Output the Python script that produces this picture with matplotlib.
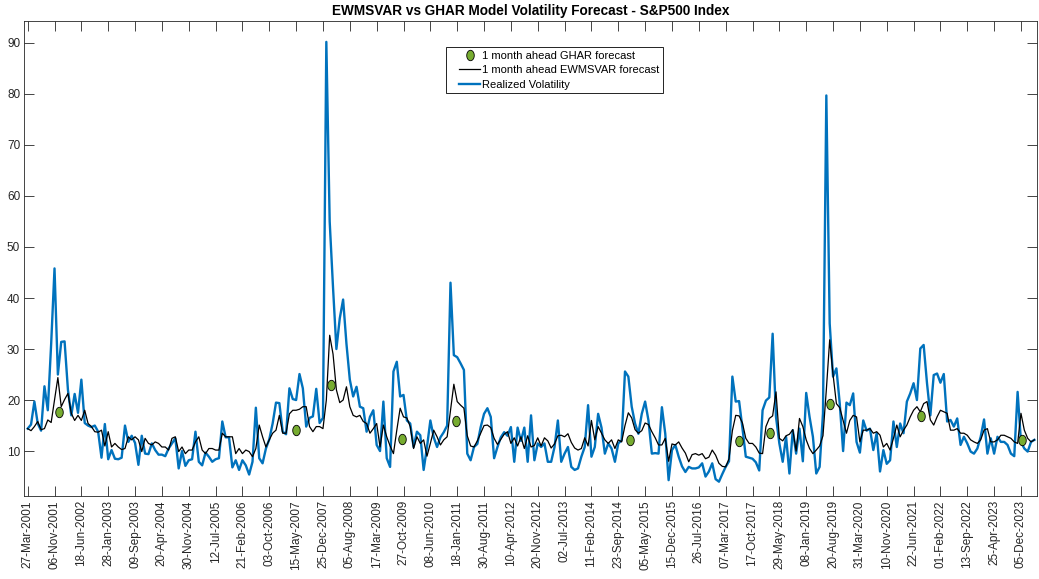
import numpy as np
import pandas as pd
import matplotlib
matplotlib.use("Agg")
import matplotlib.pyplot as plt
from matplotlib.path import Path
from matplotlib.lines import Line2D
from matplotlib.legend_handler import HandlerLine2D

plt.rcParams["font.family"] = ["Liberation Sans", "DejaVu Sans"]

# ---- data -----------------------------------------------------------------
start_date = "2001-03-27"
step_days = 28          # one observation every four weeks
tick_step_days = 224    # date labels every eight observations

realized_vol = [
    14.4, 15.2, 19.7, 15.4, 14.0, 22.7, 18.0, 31.0,
    45.8, 25.0, 31.4, 31.5, 22.0, 17.0, 21.2, 17.5,
    24.0, 15.5, 15.0, 14.7, 15.0, 13.8, 8.7, 15.3,
    8.4, 10.2, 8.5, 8.4, 8.7, 15.0, 11.8, 13.0,
    11.6, 7.3, 13.0, 9.5, 9.4, 11.5, 10.2, 9.3,
    9.3, 9.0, 10.5, 11.5, 12.5, 6.6, 10.0, 7.1,
    8.2, 8.4, 13.8, 7.9, 7.2, 9.7, 8.9, 7.9,
    8.4, 8.6, 15.8, 12.7, 12.7, 6.8, 8.2, 6.3,
    8.2, 7.2, 5.4, 7.9, 18.5, 8.6, 7.6, 10.5,
    12.3, 15.4, 19.5, 19.4, 13.8, 13.3, 22.3, 20.2,
    20.0, 25.1, 22.3, 14.8, 16.5, 16.8, 22.2, 15.5,
    16.5, 90.2, 55.0, 42.0, 30.0, 36.0, 39.7, 31.0,
    24.0, 20.7, 22.6, 18.7, 18.4, 13.8, 16.7, 18.0,
    11.2, 10.0, 19.7, 8.6, 6.9, 25.6, 27.5, 20.7,
    21.0, 16.0, 15.4, 10.8, 13.8, 13.1, 6.3, 10.8,
    16.0, 12.7, 10.8, 12.7, 13.7, 15.0, 43.0, 28.8,
    28.4, 27.2, 25.9, 9.5, 8.2, 10.8, 11.4, 14.7,
    17.3, 18.4, 16.7, 8.6, 10.8, 12.7, 13.7, 13.0,
    14.7, 7.9, 14.6, 12.0, 14.6, 7.9, 17.0, 8.2,
    11.5, 10.8, 11.5, 7.9, 7.9, 10.8, 16.0, 7.9,
    9.5, 10.8, 6.9, 6.3, 6.6, 8.9, 10.8, 19.0,
    8.9, 10.8, 17.3, 14.6, 9.5, 11.5, 10.5, 7.9,
    11.5, 12.1, 25.6, 24.6, 18.7, 15.4, 13.4, 17.3,
    19.7, 16.0, 9.5, 9.6, 9.5, 18.6, 13.4, 4.3,
    10.2, 11.2, 8.9, 7.0, 5.9, 6.9, 6.6, 6.6,
    6.8, 7.6, 5.0, 6.0, 7.6, 4.5, 4.0, 5.5,
    6.9, 8.0, 24.6, 19.7, 19.8, 14.5, 8.9, 8.7,
    8.5, 7.8, 6.2, 18.0, 19.9, 20.5, 33.0, 16.7,
    11.5, 7.9, 12.8, 5.6, 14.1, 9.5, 14.4, 8.0,
    21.4, 16.7, 12.8, 5.6, 6.9, 17.4, 79.7, 35.0,
    24.6, 26.2, 19.3, 10.0, 19.5, 19.0, 21.3, 11.8,
    9.7, 16.0, 14.0, 14.4, 10.2, 13.5, 6.0, 10.2,
    7.5, 8.2, 15.8, 10.8, 15.4, 13.5, 19.7, 21.3,
    23.3, 20.0, 30.1, 30.8, 23.3, 17.0, 24.9, 25.2,
    23.4, 25.1, 15.8, 16.1, 14.8, 16.4, 11.2, 12.8,
    11.5, 9.9, 9.5, 10.5, 12.8, 16.2, 9.5, 12.5,
    9.5, 12.8, 11.8, 11.8, 11.2, 9.5, 9.0, 21.6,
    11.8, 10.5, 9.9, 11.8, 12.2,
]

ewmsvar_forecast = [
    14.4, 14.0, 14.8, 15.8, 14.2, 14.4, 16.1, 15.6,
    20.0, 24.4, 18.7, 20.1, 21.3, 17.4, 16.0, 17.0,
    16.0, 18.0, 15.4, 14.8, 13.8, 13.7, 14.1, 11.0,
    13.8, 10.8, 11.5, 10.8, 10.3, 10.5, 12.8, 12.2,
    12.8, 12.2, 9.9, 12.5, 11.5, 11.2, 11.8, 11.5,
    10.8, 10.8, 10.2, 12.5, 12.8, 9.9, 10.8, 9.5,
    10.2, 10.2, 11.8, 12.8, 10.2, 9.5, 10.5, 10.5,
    10.2, 10.2, 13.5, 12.8, 12.8, 12.8, 9.5, 10.5,
    9.5, 10.2, 9.9, 8.9, 10.5, 15.1, 12.8, 10.8,
    12.2, 13.5, 14.1, 17.0, 13.5, 13.5, 17.3, 18.0,
    18.0, 18.2, 18.7, 18.7, 14.8, 13.8, 14.8, 14.8,
    14.4, 20.0, 32.7, 29.0, 22.0, 19.5, 20.0, 22.6,
    18.7, 17.0, 16.7, 17.0, 15.8, 15.4, 13.5, 14.4,
    15.4, 10.8, 15.1, 12.8, 11.0, 9.5, 14.1, 18.4,
    16.7, 16.5, 14.8, 10.5, 12.8, 11.5, 12.2, 9.0,
    11.5, 14.1, 12.8, 11.2, 12.2, 12.8, 18.0, 23.1,
    19.7, 19.0, 18.4, 13.0, 11.0, 10.8, 12.0, 13.5,
    15.0, 15.1, 14.6, 12.5, 11.3, 12.3, 13.3, 13.8,
    11.5, 12.6, 11.0, 12.8, 10.5, 13.0, 10.8, 11.1,
    12.6, 11.0, 12.6, 12.0, 10.6, 11.4, 13.0, 13.1,
    12.8, 13.4, 11.7, 10.6, 10.2, 10.5, 12.6, 11.0,
    16.0, 12.2, 14.8, 13.5, 12.2, 11.5, 12.2, 10.5,
    12.2, 11.8, 15.0, 17.5, 16.5, 14.2, 13.5, 14.0,
    15.5, 15.2, 13.8, 12.6, 11.2, 11.2, 12.5, 8.0,
    11.4, 11.2, 11.8, 10.6, 9.6, 7.9, 9.3, 9.5,
    9.2, 9.5, 8.5, 8.8, 10.2, 9.2, 7.6, 7.0,
    6.9, 8.5, 14.0, 17.0, 16.9, 15.5, 12.5, 11.5,
    11.5, 10.8, 9.6, 9.5, 14.8, 16.4, 16.9, 21.6,
    12.5, 12.0, 13.0, 13.3, 14.2, 10.0, 16.4, 14.8,
    12.2, 10.5, 9.5, 10.2, 11.0, 13.0, 22.0, 31.8,
    25.0, 19.3, 18.5, 16.0, 13.5, 16.0, 17.0, 16.7,
    11.8, 14.1, 14.1, 14.4, 13.5, 13.8, 13.1, 10.8,
    11.5, 10.2, 12.5, 15.1, 12.8, 14.1, 15.1, 16.7,
    18.0, 18.7, 17.7, 19.3, 19.7, 16.1, 15.1, 16.7,
    18.0, 17.7, 17.4, 14.1, 14.1, 14.4, 13.5, 13.5,
    13.1, 12.2, 11.8, 11.5, 12.2, 14.1, 14.4, 11.8,
    11.8, 12.2, 13.1, 13.1, 12.8, 12.5, 11.8, 11.5,
    17.4, 14.1, 12.5, 11.8, 12.2,
]

ghar_dates = [
    "2001-12-11", "2007-05-12", "2008-03-01", "2009-10-17", "2011-01-10",
    "2014-12-29", "2017-06-23", "2018-03-11", "2019-07-27", "2021-08-20",
    "2023-12-12",
]
ghar_forecast = [17.6, 14.1, 22.9, 12.4, 15.9, 12.2, 12.0, 13.6, 19.2, 16.9, 12.2]

title_text = "EWMSVAR vs GHAR Model Volatility Forecast - S&P500 Index"
label_ghar = "1 month ahead GHAR forecast"
label_ewmsvar = "1 month ahead EWMSVAR forecast"
label_rv = "Realized Volatility"

# ---- styling --------------------------------------------------------------
blue = "#0072BD"
green = "#77AC30"
axis_grey = "#262626"
tick_font = 8.5


class IndentedLineHandler(HandlerLine2D):
    """Legend line sample drawn in the right part of the handle box."""

    def get_xdata(self, legend, xdescent, ydescent, width, height, fontsize):
        x0 = -xdescent + 0.33 * width
        x1 = -xdescent + width
        xdata = np.array([x0, x1])
        return xdata, np.array([(x0 + x1) / 2])


dates = pd.date_range(start_date, periods=len(realized_vol), freq=f"{step_days}D")
fc_dates = pd.date_range(start_date, periods=len(ewmsvar_forecast), freq=f"{step_days}D")
tick_dates = pd.date_range(start_date, dates[-1], freq=f"{tick_step_days}D")
ghar_x = pd.to_datetime(ghar_dates)

# tall ellipse marker for the GHAR points
theta = np.linspace(0, 2 * np.pi, 64)
ellipse = Path(np.column_stack([0.72 * np.cos(theta), np.sin(theta)]), closed=True)

fig = plt.figure(figsize=(10.39, 5.79), dpi=100)
ax = fig.add_axes([0.0234, 0.1434, 0.9747, 0.8195])

ax.plot(dates, realized_vol, color=blue, lw=1.7, zorder=2)
ax.plot(fc_dates, ewmsvar_forecast, color="black", lw=0.9, zorder=3)
ax.plot(ghar_x, ghar_forecast, ls="none", marker=ellipse, ms=7.5,
        mfc=green, mec="black", mew=0.6, zorder=4)

ax.set_xlim(dates[0] - pd.Timedelta(days=28), dates[-1] + pd.Timedelta(days=22))
ax.set_ylim(1.2, 94.2)

ax.set_xticks(tick_dates)
ax.set_xticklabels([d.strftime("%d-%b-%Y") for d in tick_dates],
                   rotation=90, fontsize=tick_font, color=axis_grey)
ax.set_yticks(np.arange(10, 91, 10))
ax.set_yticklabels([str(v) for v in range(10, 91, 10)], fontsize=tick_font,
                   color=axis_grey)

ax.tick_params(axis="both", direction="in", length=7, width=0.6, colors=axis_grey,
               top=True, right=True, pad=3)
for side in ax.spines.values():
    side.set_color(axis_grey)
    side.set_linewidth(0.6)

ax.set_title(title_text, fontsize=9.8, fontweight="bold", pad=5)

handles = [
    Line2D([], [], ls="none", marker=ellipse, ms=7.5, mfc=green, mec="black", mew=0.6),
    Line2D([], [], color="black", lw=0.9),
    Line2D([], [], color=blue, lw=1.7),
]
leg = ax.legend(handles, [label_ghar, label_ewmsvar, label_rv],
                handler_map={Line2D: IndentedLineHandler()},
                loc="upper left", bbox_to_anchor=(0.416, 0.9456),
                fontsize=8, frameon=True, fancybox=False, framealpha=1,
                edgecolor="black", borderpad=0.3, handlelength=2.83,
                handletextpad=0.18, labelspacing=0.42, borderaxespad=0)
leg.get_frame().set_linewidth(0.6)

fig.savefig("out.png", dpi=100)
